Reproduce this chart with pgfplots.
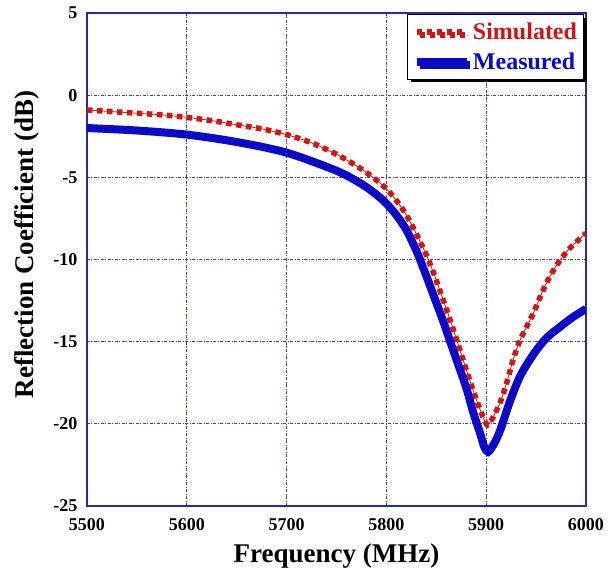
\documentclass[border=0pt]{standalone}
\usepackage{fontspec}
\setmainfont{Liberation Serif}
\usepackage{pgfplots}
\pgfplotsset{compat=1.18}
\usetikzlibrary{shadows}
\definecolor{simred}{RGB}{210,20,20}
\definecolor{meablue}{RGB}{10,10,200}
\definecolor{axblue}{RGB}{40,40,170}
\definecolor{gridblue}{RGB}{60,60,190}
\begin{document}
\begin{tikzpicture}
\useasboundingbox (-87pt,-67pt) rectangle (526pt,506pt);
\begin{axis}[
  at={(0pt,0pt)}, anchor=south west,
  scale only axis,
  width=499pt, height=493pt,
  xmin=5500, xmax=6000, ymin=-25, ymax=5,
  xtick={5500,5600,5700,5800,5900,6000},
  xticklabels={5500,5600,5700,5800,5900,6000},
  ytick={-25,-20,-15,-10,-5,0,5},
  yticklabels={-25,-20,-15,-10,-5,0,5},
  major tick length=0pt,
  grid=major,
  major grid style={gridblue, line width=0.9pt, dash pattern=on 3pt off 1.5pt on 1pt off 1.5pt},
  axis line style={axblue, line width=1.6pt},
  tick label style={font=\fontsize{18}{20}\selectfont\bfseries, black},
  xticklabel style={yshift=-9pt},
  yticklabel style={xshift=-6pt},
  xlabel={Frequency (MHz)},
  ylabel={Reflection Coefficient (dB)},
  label style={font=\fontsize{27}{30}\selectfont\bfseries},
  xlabel style={at={(rel axis cs:0.5,-0.1014)}, anchor=center},
  ylabel style={at={(rel axis cs:-0.1203,0.5304)}, anchor=center},
  legend cell align=left,
  legend style={at={(rel axis cs:0.997,0.997)}, anchor=north east,
    draw=black, line width=1pt, fill=white,
    drop shadow={shadow xshift=3pt, shadow yshift=-3pt, fill=black, opacity=1},
    font=\fontsize{24}{26}\selectfont\bfseries,
    inner xsep=5pt, inner ysep=6pt, row sep=8pt},
  legend image code/.code={\draw[#1] (0pt,0pt) -- (50pt,0pt);},
]
\addplot[simred, line width=0.8pt, smooth, forget plot] coordinates {
(5500,-0.9) (5525,-1.0) (5550,-1.1) (5575,-1.2) (5600,-1.35) (5625,-1.55)
(5650,-1.8) (5675,-2.05) (5700,-2.4) (5725,-2.9) (5750,-3.6) (5775,-4.5)
(5800,-5.7) (5820,-7.3) (5842,-10.0) (5860,-13.0) (5871,-15.0) (5880,-16.7)
(5890,-18.5) (5900,-20.0) (5905,-19.8) (5914,-18.7) (5921,-17.4) (5927,-16.1)
(5934,-14.9) (5947,-13.3) (5959,-11.6) (5970,-10.4) (5981,-9.5) (5990,-8.95) (6000,-8.4)
};
\addplot[simred, line width=5.5pt, dash pattern=on 5.5pt off 4.5pt, smooth] coordinates {
(5500,-0.9) (5525,-1.0) (5550,-1.1) (5575,-1.2) (5600,-1.35) (5625,-1.55)
(5650,-1.8) (5675,-2.05) (5700,-2.4) (5725,-2.9) (5750,-3.6) (5775,-4.5)
(5800,-5.7) (5820,-7.3) (5842,-10.0) (5860,-13.0) (5871,-15.0) (5880,-16.7)
(5890,-18.5) (5900,-20.0) (5905,-19.8) (5914,-18.7) (5921,-17.4) (5927,-16.1)
(5934,-14.9) (5947,-13.3) (5959,-11.6) (5970,-10.4) (5981,-9.5) (5990,-8.95) (6000,-8.4)
};
\addlegendentry{\textcolor{simred}{Simulated}}
\addplot[meablue, line width=8pt, smooth] coordinates {
(5500,-2.0) (5550,-2.15) (5600,-2.4) (5650,-2.85) (5700,-3.5) (5750,-4.6)
(5775,-5.4) (5790,-6.05) (5800,-6.6) (5810,-7.3) (5820,-8.2) (5831,-9.6)
(5840,-11.0) (5848,-12.3) (5856,-13.6) (5864,-15.0) (5872,-16.4)
(5880,-17.8) (5887,-19.3) (5894,-20.6) (5898,-21.4) (5902,-21.7) (5908,-21.2)
(5914,-20.4) (5924,-18.6) (5934,-17.1) (5947,-15.8) (5960,-14.8) (5974,-14.1)
(5987,-13.5) (6000,-13.0)
};
\addlegendentry{\textcolor{meablue}{Measured}}
\end{axis}
\end{tikzpicture}
\end{document}
